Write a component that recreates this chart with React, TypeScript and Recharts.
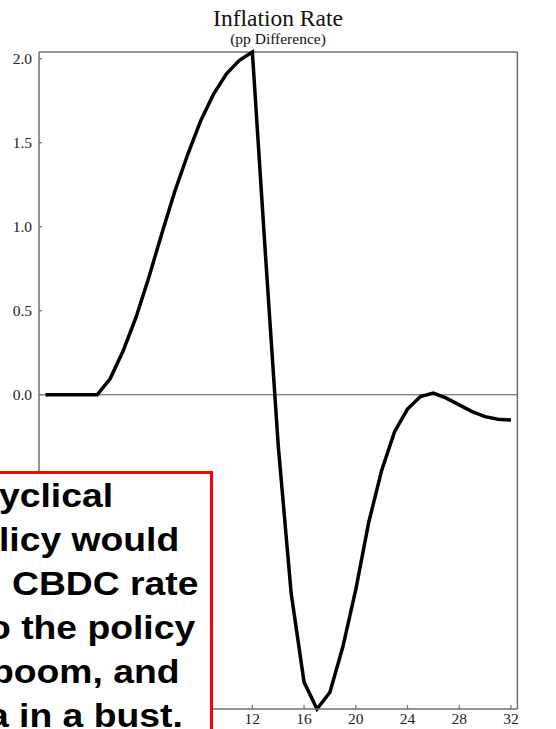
import { LineChart, Line, XAxis, YAxis, ReferenceLine } from 'recharts'

// quarters after the shock
const quarters = [
  -4, -3, -2, -1, 0, 1, 2, 3, 4, 5, 6, 7, 8, 9, 10, 11, 12, 13, 14, 15, 16,
  17, 18, 19, 20, 21, 22, 23, 24, 25, 26, 27, 28, 29, 30, 31, 32,
]
// inflation rate, pp difference
const inflation = [
  0, 0, 0, 0, 0, 0.095, 0.26, 0.46, 0.7, 0.96, 1.21, 1.43, 1.63, 1.79, 1.91, 1.99, 2.04,
  0.85, -0.3, -1.18, -1.71, -1.87, -1.77, -1.5, -1.16, -0.76, -0.45, -0.22, -0.085,
  -0.01, 0.01, -0.02, -0.06, -0.1, -0.13, -0.145, -0.15,
]
// ticks in the lower left sit under the note box
const xTicks = [12, 16, 20, 24, 28, 32]
const leftTicks = [0.0, 0.5, 1.0, 1.5, 2.0]
const rightTicks = [-1.5, -1.0, -0.5, 0.0, 0.5, 1.0, 1.5, 2.0]

const noteLines = ['yclical', 'licy would', 'CBDC rate', 'o the policy', 'boom, and', 'a in a bust.']
const noteOffsets = [-1, -1, 12, -12, -9, -12]

const data = quarters.map((q, i) => ({ q, v: inflation[i] }))

const AXIS = '#707070'
const SERIF = '"Liberation Serif", "Times New Roman", serif'

const LeftTick = (props: any) => {
  const { x, y, payload } = props
  return (
    <g>
      <line x1={x + 7} x2={x + 10} y1={y} y2={y} stroke={AXIS} strokeWidth={1.2} />
      <text x={x} y={y + 5} textAnchor="end" fontFamily={SERIF} fontSize={15.5} fill="#222">
        {Number(payload.value).toFixed(1)}
      </text>
    </g>
  )
}

const RightTick = (props: any) => {
  const { x, y, payload } = props
  return (
    <g>
      <line x1={x - 13} x2={x - 10} y1={y} y2={y} stroke={AXIS} strokeWidth={1.2} />
      <text x={x} y={y + 5} textAnchor="start" fontFamily={SERIF} fontSize={15.5} fill="#222">
        {Number(payload.value).toFixed(1)}
      </text>
    </g>
  )
}

const BottomTick = (props: any) => {
  const { x, y, payload } = props
  return (
    <g>
      <line x1={x} x2={x} y1={y - 4} y2={y} stroke={AXIS} strokeWidth={1.2} />
      <text x={x} y={y + 15} textAnchor="middle" fontFamily={SERIF} fontSize={15.5} fill="#222">
        {payload.value}
      </text>
    </g>
  )
}

export default function App() {
  return (
    <div style={{ position: 'absolute', left: 0, top: 0, width: 556, height: 729, overflow: 'hidden', background: '#fff' }}>
      <svg width={556} height={52} style={{ position: 'absolute', left: 0, top: 0 }}>
        <text x={278} y={26} textAnchor="middle" fontFamily={SERIF} fontSize={23.5} fill="#111">
          Inflation Rate
        </text>
        <text x={278} y={44} textAnchor="middle" fontFamily={SERIF} fontSize={15.5} fill="#111">
          (pp Difference)
        </text>
      </svg>
      <div style={{ position: 'absolute', left: 0, top: 0 }}>
        <LineChart width={556} height={729} data={data} margin={{ top: 52, right: 0, left: 0, bottom: 0 }}>
          <XAxis
            dataKey="q"
            type="number"
            domain={[-4.5, 32.5]}
            ticks={xTicks}
            interval={0}
            height={20}
            tickSize={0}
            tickMargin={0}
            tickLine={false}
            tick={<BottomTick />}
            axisLine={{ stroke: AXIS, strokeWidth: 1.5 }}
          />
          <YAxis
            yAxisId="left"
            type="number"
            domain={[-1.87, 2.04]}
            ticks={leftTicks}
            interval={0}
            width={39}
            tickSize={0}
            tickMargin={7}
            tickLine={false}
            tick={<LeftTick />}
            axisLine={{ stroke: AXIS, strokeWidth: 1.5 }}
          />
          <YAxis
            yAxisId="right"
            orientation="right"
            type="number"
            domain={[-1.87, 2.04]}
            ticks={rightTicks}
            interval={0}
            width={38.6}
            tickSize={0}
            tickMargin={10}
            tickLine={false}
            tick={<RightTick />}
            axisLine={{ stroke: AXIS, strokeWidth: 1.5 }}
          />
          {/* top frame */}
          <ReferenceLine yAxisId="left" y={2.04} stroke={AXIS} strokeWidth={1.5} />
          <ReferenceLine yAxisId="left" y={0} stroke="#555" strokeWidth={1} />
          <Line
            yAxisId="left"
            type="linear"
            dataKey="v"
            stroke="#000"
            strokeWidth={3.5}
            dot={false}
            isAnimationActive={false}
          />
        </LineChart>
      </div>
      <div
        style={{
          position: 'absolute',
          left: -10,
          top: 471,
          width: 216.5,
          height: 300,
          border: '3px solid #ff0000',
          background: '#fff',
          fontFamily: '"Liberation Sans", Arial, sans-serif',
          fontWeight: 'bold',
          fontSize: 33,
          lineHeight: '44px',
          color: '#000',
        }}
      >
        {noteLines.map((t, i) => (
          <div
            key={i}
            style={{
              whiteSpace: 'pre',
              marginLeft: noteOffsets[i] + 7,
              transform: 'scaleX(1.13)',
              transformOrigin: '0 0',
            }}
          >
            {t}
          </div>
        ))}
      </div>
    </div>
  )
}
